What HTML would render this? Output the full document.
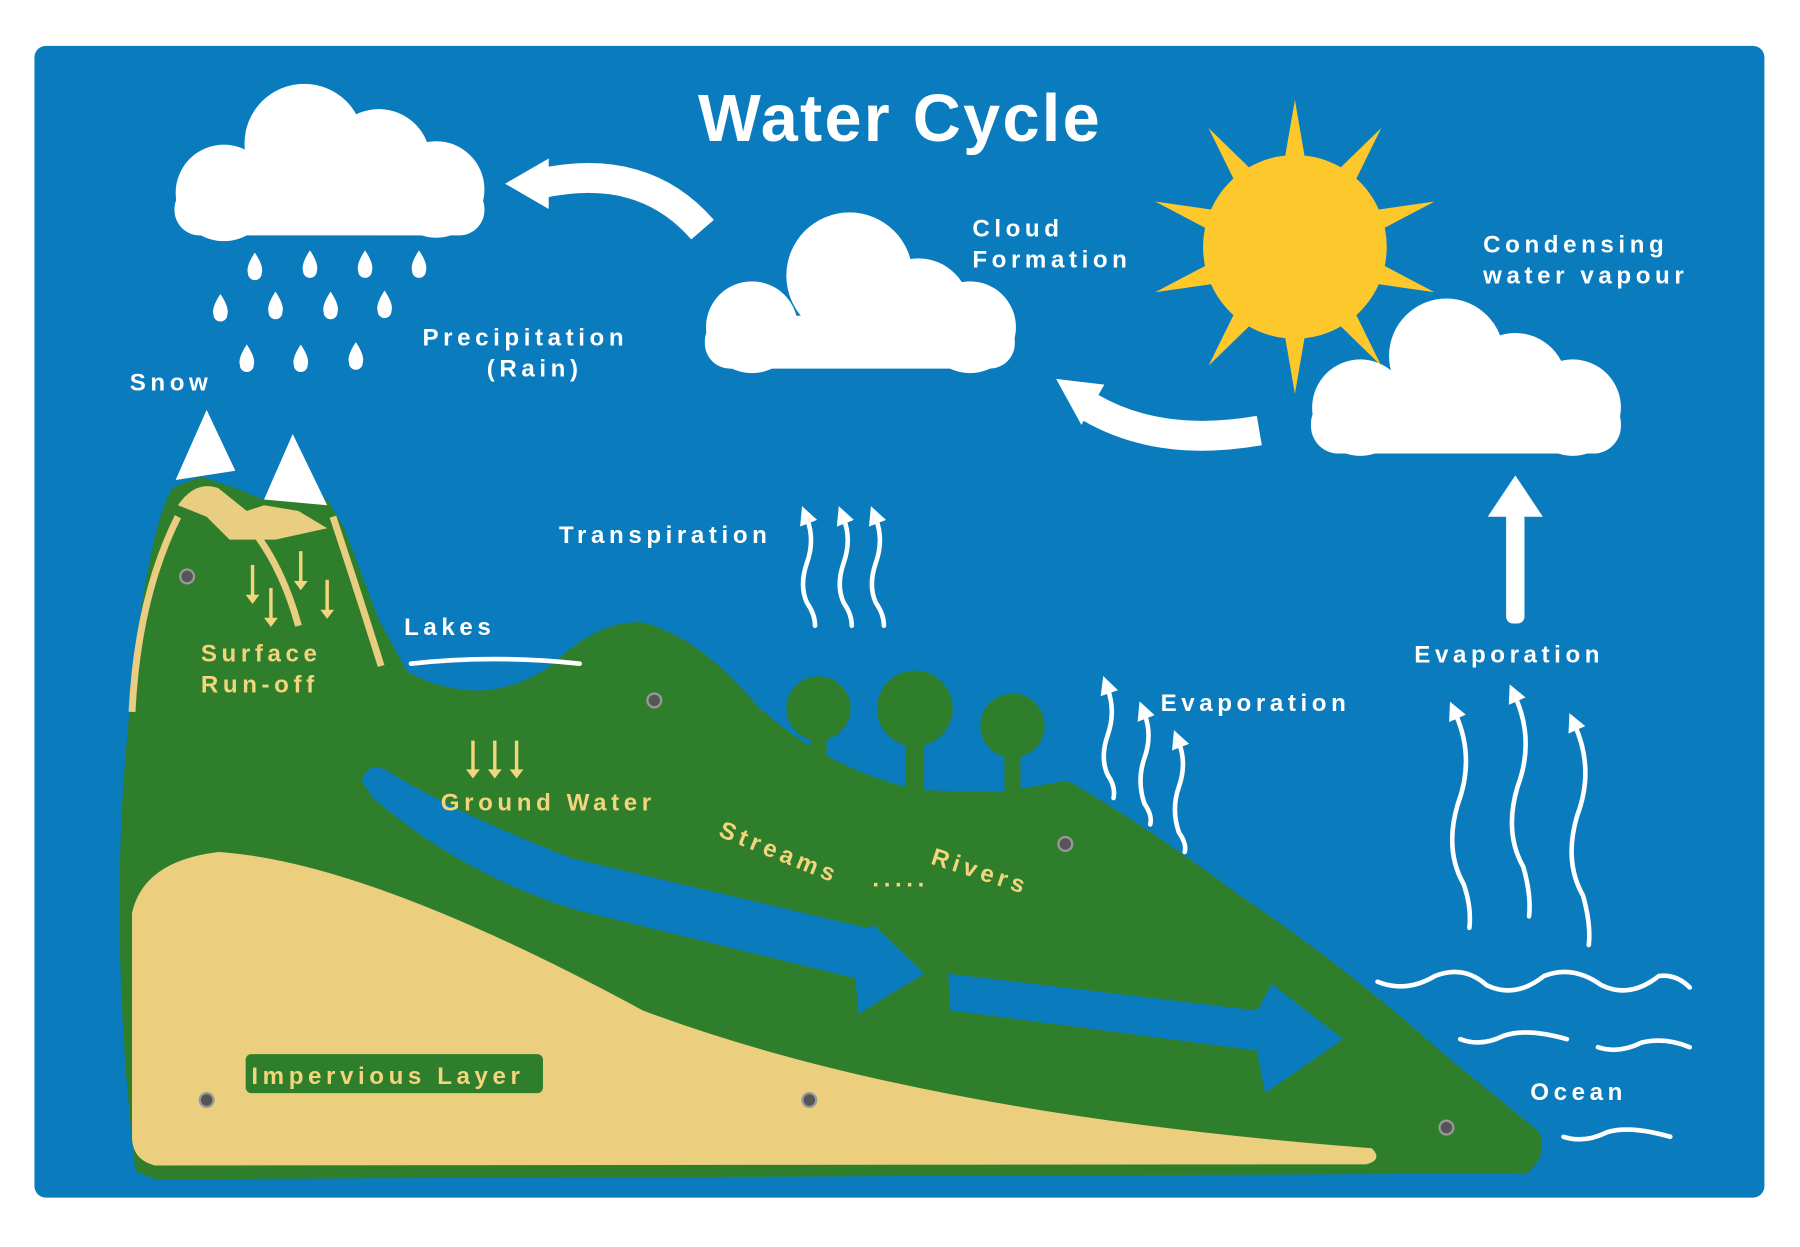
<!DOCTYPE html>
<html><head><meta charset="utf-8"><style>
html,body{margin:0;padding:0;background:#fff;width:1800px;height:1247px;overflow:hidden}
svg{display:block}
.w{fill:#fff;font-family:"Liberation Sans",sans-serif;font-weight:bold;font-size:21px;letter-spacing:4px}
.y{fill:#f2d57d;font-family:"Liberation Sans",sans-serif;font-weight:bold;font-size:21px;letter-spacing:4px}
.wv{fill:none;stroke:#fff;stroke-width:4;stroke-linecap:round}
</style></head><body>
<svg width="1800" height="1247" viewBox="0 0 1568 1086" preserveAspectRatio="none">
<defs>
<marker id="ah" markerWidth="4" markerHeight="4" refX="1" refY="2" orient="auto-start-reverse" markerUnits="strokeWidth"><path d="M0,0 L4,2 L0,4 Z" fill="#fff"/></marker>
</defs>
<rect x="30" y="40" width="1507" height="1003" rx="10" fill="#0a7cbe"/>
<text x="784" y="123" text-anchor="middle" fill="#fff" font-family="Liberation Sans,sans-serif" font-weight="bold" font-size="58" letter-spacing="2">Water Cycle</text>

<g fill="#fff">
<circle cx="195" cy="168" r="42"/><circle cx="265" cy="125" r="52"/><circle cx="330" cy="140" r="45"/><circle cx="380" cy="165" r="42"/><rect x="152" y="160" width="270" height="45" rx="22"/>
<circle cx="655" cy="285" r="40"/><circle cx="740" cy="240" r="55"/><circle cx="800" cy="270" r="45"/><circle cx="845" cy="285" r="40"/><rect x="614" y="275" width="270" height="46" rx="22"/>
<circle cx="1185" cy="355" r="42"/><circle cx="1260" cy="310" r="50"/><circle cx="1320" cy="335" r="45"/><circle cx="1370" cy="355" r="42"/><rect x="1142" y="345" width="270" height="50" rx="24"/>
</g>
<g fill="#fff">
<g id="d"><path d="M0,-12 Q8,0 6,6 A6,6 0 1 1 -6,6 Q-8,0 0,-12Z"/></g>
<use href="#d" x="222" y="232"/><use href="#d" x="270" y="230"/><use href="#d" x="318" y="230"/><use href="#d" x="365" y="230"/>
<use href="#d" x="192" y="268"/><use href="#d" x="240" y="266"/><use href="#d" x="288" y="266"/><use href="#d" x="335" y="265"/>
<use href="#d" x="215" y="312"/><use href="#d" x="262" y="312"/><use href="#d" x="310" y="310"/>
</g>
<path d="M612,200 Q560,140 470,160" fill="none" stroke="#fff" stroke-width="26"/>
<path d="M440,160 L478,138 L478,182Z" fill="#fff"/>
<path d="M1097,375 Q1010,390 950,355" fill="none" stroke="#fff" stroke-width="26"/>
<path d="M920,330 L962,335 L942,370Z" fill="#fff"/>
<g fill="#fdc82b" transform="translate(1128,215)">
<g id="r"><path d="M-10,-70 L0,-128 L10,-70Z"/></g>
<use href="#r" transform="rotate(36)"/><use href="#r" transform="rotate(72)"/><use href="#r" transform="rotate(108)"/><use href="#r" transform="rotate(144)"/><use href="#r" transform="rotate(180)"/><use href="#r" transform="rotate(216)"/><use href="#r" transform="rotate(252)"/><use href="#r" transform="rotate(288)"/><use href="#r" transform="rotate(324)"/>
<circle r="80"/>
</g>
<rect x="1312" y="445" width="16" height="98" rx="6" fill="#fff"/>
<path d="M1296,450 L1320,414 L1344,450Z" fill="#fff"/>

<path d="M118,1020 Q95,820 110,650 Q125,470 150,425 L175,415 L205,425 L230,435 L260,425 L285,435 L300,460 L330,540 L355,585 Q420,620 480,580 Q520,540 560,542 Q610,555 660,615 Q720,670 800,688 L870,690 L930,680 Q1000,720 1080,780 Q1170,840 1260,920 L1340,985 Q1350,1005 1330,1022 L135,1027 Z" fill="#2f7e2b"/>
<g fill="#2f7e2b">
<circle cx="713" cy="617" r="28"/><rect x="706" y="630" width="14" height="55"/>
<circle cx="797" cy="617" r="33"/><rect x="789" y="630" width="16" height="65"/>
<circle cx="882" cy="632" r="28"/><rect x="875" y="645" width="14" height="50"/>
</g>
<path d="M153,418 L180,357 L205,410 Z" fill="#fff"/>
<path d="M230,435 L255,378 L285,440 Z" fill="#fff"/>
<path d="M155,440 Q170,418 190,425 L215,445 L230,440 L260,445 L285,460 L240,470 L200,470 L180,450Z" fill="#e9cd80"/>
<path d="M155,450 Q120,520 115,620" fill="none" stroke="#e9cd80" stroke-width="6"/>
<path d="M290,450 Q310,510 332,580" fill="none" stroke="#e9cd80" stroke-width="6"/>
<path d="M215,455 Q245,490 260,545" fill="none" stroke="#e9cd80" stroke-width="6"/>
<path d="M115,795 Q125,750 190,742 Q320,750 560,880 Q800,970 1195,1000 Q1205,1010 1190,1014 L135,1015 Q115,1010 115,990 Z" fill="#ebcf7e"/>
<path d="M315,680 Q320,664 335,670 Q400,710 500,748 L755,808 L762,806 L805,848 L748,883 L745,852 L500,792 Q400,760 325,695Z" fill="#0a7cbe"/>
<path d="M826,848 L1095,880 L1108,857 L1170,905 L1102,952 L1095,915 L828,880Z" fill="#0a7cbe"/>
<path d="M358,578 Q430,570 505,578" class="wv" stroke-width="6"/>
<g fill="#555" stroke="#999" stroke-width="2">
<circle cx="163" cy="502" r="6"/><circle cx="570" cy="610" r="6"/><circle cx="928" cy="735" r="6"/><circle cx="180" cy="958" r="6"/><circle cx="705" cy="958" r="6"/><circle cx="1260" cy="982" r="6"/>
</g>
<g stroke="#f2d57d" stroke-width="3" fill="#f2d57d">
<path d="M220,492 V520"/><path d="M236,512 V540"/><path d="M262,480 V508"/><path d="M285,505 V533"/>
<path d="M412,645 V672"/><path d="M431,645 V672"/><path d="M450,645 V672"/>
</g>
<g fill="#f2d57d">
<path d="M214,518 L226,518 L220,526Z"/><path d="M230,538 L242,538 L236,546Z"/><path d="M256,506 L268,506 L262,514Z"/><path d="M279,531 L291,531 L285,539Z"/>
<path d="M406,670 L418,670 L412,678Z"/><path d="M425,670 L437,670 L431,678Z"/><path d="M444,670 L456,670 L450,678Z"/>
</g>
<g class="wv" stroke-width="3">
<path d="M703,452 Q710,470 703,490 Q696,510 703,525 Q710,535 710,545" marker-start="url(#ah)"/>
<path d="M735,452 Q742,470 735,490 Q728,510 735,525 Q742,535 742,545" marker-start="url(#ah)"/>
<path d="M763,452 Q770,470 763,490 Q756,510 763,525 Q770,535 770,545" marker-start="url(#ah)"/>
<path d="M965,600 Q972,620 965,640 Q958,660 965,675 Q972,685 970,695" marker-start="url(#ah)"/>
<path d="M997,622 Q1004,640 997,660 Q990,680 997,700 Q1004,710 1002,718" marker-start="url(#ah)"/>
<path d="M1027,647 Q1034,665 1027,685 Q1020,705 1027,725 Q1034,735 1032,742" marker-start="url(#ah)"/>
</g>
<g class="wv" stroke-width="6">
<path d="M1268,622 Q1285,660 1270,700 Q1258,740 1275,770 Q1282,790 1280,808" marker-start="url(#ah)"/>
<path d="M1320,607 Q1337,645 1322,685 Q1310,725 1327,755 Q1334,780 1332,798" marker-start="url(#ah)"/>
<path d="M1372,632 Q1389,670 1374,710 Q1362,750 1379,780 Q1386,805 1384,823" marker-start="url(#ah)"/>
</g>
<g class="wv" stroke-width="5">
<path d="M1200,855 Q1225,865 1250,850 Q1275,840 1295,858 Q1320,870 1345,850 Q1370,840 1395,858 Q1420,870 1445,850 Q1460,848 1472,860"/>
<path d="M1272,905 Q1290,912 1310,902 Q1330,895 1365,905"/>
<path d="M1392,912 Q1410,918 1430,908 Q1450,903 1472,912"/>
<path d="M1362,990 Q1380,996 1400,986 Q1420,980 1455,990"/>
</g>

<text class="w" x="847" y="206">Cloud</text>
<text class="w" x="847" y="233">Formation</text>
<text class="w" x="1292" y="220">Condensing</text>
<text class="w" x="1292" y="247">water vapour</text>
<text class="w" x="368" y="301">Precipitation</text>
<text class="w" x="424" y="328">(Rain)</text>
<text class="w" x="113" y="340">Snow</text>
<text class="w" x="487" y="473">Transpiration</text>
<text class="w" x="352" y="553">Lakes</text>
<text class="w" x="1232" y="577">Evaporation</text>
<text class="w" x="1011" y="619">Evaporation</text>
<text class="w" x="1333" y="958">Ocean</text>
<text class="y" x="175" y="576">Surface</text>
<text class="y" x="175" y="603">Run-off</text>
<text class="y" x="384" y="706">Ground Water</text>
<text class="y" transform="translate(625,728) rotate(22)">Streams</text>
<text class="y" x="760" y="772">.....</text>
<text class="y" transform="translate(810,752) rotate(18)">Rivers</text>
<rect x="214" y="918" width="259" height="34" rx="5" fill="#2f7e2b"/>
<text class="y" x="219" y="944">Impervious Layer</text>
</svg>
</body></html>
